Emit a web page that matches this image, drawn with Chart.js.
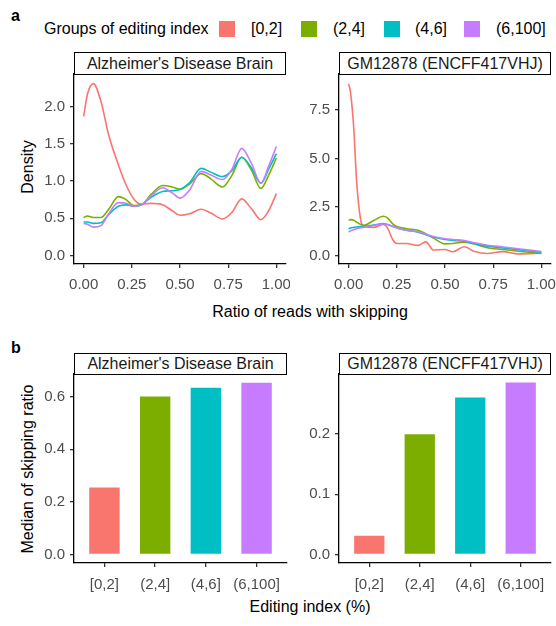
<!DOCTYPE html>
<html><head><meta charset="utf-8">
<script src="https://cdn.jsdelivr.net/npm/chart.js@4.4.1/dist/chart.umd.min.js"></script>
<style>
body{margin:0;width:556px;height:626px;position:relative;background:#fff;font-family:"Liberation Sans",Arial,sans-serif;overflow:hidden;color:#000}
.strip{position:absolute;box-sizing:border-box;border:1px solid #000;background:#fff;font-size:16px;color:#1a1a1a;text-align:center;white-space:nowrap;z-index:5}
.lbl{position:absolute;font-size:16px;white-space:nowrap;line-height:16px}
.sw{position:absolute;width:16px;height:16px}
.tag{position:absolute;font-size:16px;font-weight:bold;line-height:16px}
canvas{position:absolute}
</style>
</head><body>
<div class="tag" style="left:11px;top:8px">a</div>
<div class="tag" style="left:11px;top:340px">b</div>

<div class="lbl" style="left:44px;top:21px">Groups of editing index</div>
<div class="sw" style="left:219px;top:21px;background:#F8766D"></div>
<div class="lbl" style="left:251px;top:21px">[0,2]</div>
<div class="sw" style="left:301px;top:21px;background:#7CAE00"></div>
<div class="lbl" style="left:333px;top:21px">(2,4]</div>
<div class="sw" style="left:384px;top:21px;background:#00BFC4"></div>
<div class="lbl" style="left:415px;top:21px">(4,6]</div>
<div class="sw" style="left:464px;top:21px;background:#C77CFF"></div>
<div class="lbl" style="left:496px;top:21px">(6,100]</div>

<div class="strip" style="left:74px;top:52px;width:212px;height:23px;line-height:21px">Alzheimer's Disease Brain</div>
<div class="strip" style="left:339px;top:52px;width:212px;height:23px;line-height:21px">GM12878 (ENCFF417VHJ)</div>
<div class="strip" style="left:74px;top:353px;width:213px;height:22px;line-height:20px">Alzheimer's Disease Brain</div>
<div class="strip" style="left:339px;top:353px;width:212px;height:22px;line-height:20px">GM12878 (ENCFF417VHJ)</div>

<div class="lbl" style="left:28px;top:167px;transform:translate(-50%,-50%) rotate(-90deg)">Density</div>
<div class="lbl" style="left:28px;top:469px;transform:translate(-50%,-50%) rotate(-90deg)">Median of skipping ratio</div>
<div class="lbl" style="left:310px;top:312px;transform:translate(-50%,-50%)">Ratio of reads with skipping</div>
<div class="lbl" style="left:310px;top:607px;transform:translate(-50%,-50%)">Editing index (%)</div>

<canvas id="c1" width="290" height="230" style="left:0px;top:70px"></canvas>
<canvas id="c2" width="266" height="230" style="left:290px;top:70px"></canvas>
<canvas id="c3" width="290" height="230" style="left:0px;top:370px"></canvas>
<canvas id="c4" width="266" height="230" style="left:290px;top:370px"></canvas>

<script>
// ---------- data ----------
const groups = ["[0,2]", "(2,4]", "(4,6]", "(6,100]"];
const groupColors = ["#F8766D", "#7CAE00", "#00BFC4", "#C77CFF"];

// Panel a, Alzheimer's Disease Brain: density of skipping ratio
const adX      = [0,0.02,0.05,0.09,0.13,0.18,0.22,0.26,0.30,0.35,0.41,0.46,0.50,0.55,0.61,0.66,0.72,0.77,0.82,0.87,0.92,0.96,1.0];
const adDens0  = [1.87,2.17,2.31,2.07,1.62,1.22,0.95,0.76,0.69,0.70,0.68,0.60,0.54,0.56,0.62,0.57,0.49,0.58,0.76,0.63,0.48,0.60,0.83];
const adDens1  = [0.51,0.53,0.51,0.51,0.62,0.79,0.75,0.67,0.68,0.82,0.94,0.92,0.89,0.96,1.10,1.03,0.92,1.08,1.32,1.15,0.90,1.08,1.31];
const adDens2  = [0.45,0.45,0.43,0.44,0.55,0.66,0.68,0.66,0.68,0.78,0.86,0.87,0.885,0.98,1.17,1.12,1.06,1.14,1.32,1.18,0.97,1.16,1.37];
const adDens3  = [0.43,0.42,0.38,0.40,0.56,0.71,0.70,0.66,0.68,0.80,0.91,0.84,0.77,0.88,1.13,1.08,1.02,1.16,1.44,1.24,0.97,1.20,1.465];

// Panel a, GM12878 (ENCFF417VHJ)
const gmX      = [0,0.01,0.027,0.041,0.062,0.08,0.13,0.18,0.2,0.23,0.25,0.3,0.36,0.4,0.44,0.5,0.54,0.6,0.65,0.72,0.8,0.88,1.0];
const gmDens0  = [8.85,8.4,6.5,3.9,1.86,1.5,1.45,1.6,1.45,0.8,0.62,0.62,0.52,0.70,0.28,0.31,0.19,0.45,0.22,0.10,0.20,0.08,0.12];
const gmDens1  = [1.82,1.85,1.82,1.72,1.6,1.56,1.8,2.02,1.95,1.62,1.5,1.38,1.3,1.12,0.9,0.6,0.62,0.69,0.6,0.4,0.31,0.22,0.1];
const gmDens2  = [1.37,1.42,1.45,1.47,1.48,1.5,1.57,1.64,1.6,1.5,1.42,1.3,1.2,1.07,0.95,0.82,0.78,0.73,0.62,0.48,0.39,0.3,0.15];
const gmDens3  = [1.2,1.27,1.33,1.38,1.43,1.46,1.55,1.62,1.6,1.5,1.42,1.3,1.22,1.1,0.98,0.86,0.82,0.77,0.66,0.53,0.44,0.35,0.2];

// Panel b: median of skipping ratio
const adMedian = [0.254, 0.600, 0.634, 0.653];
const gmMedian = [0.031, 0.200, 0.261, 0.286];

// tick labels
const densXTicks = [0, 0.25, 0.5, 0.75, 1];
const adDensYTicks = [0, 0.5, 1.0, 1.5, 2.0];
const gmDensYTicks = [0, 2.5, 5.0, 7.5];
const adMedYTicks = [0, 0.2, 0.4, 0.6];
const gmMedYTicks = [0, 0.1, 0.2];

// ---------- helpers ----------
const TICK_COLOR = "#4D4D4D";
const FONT = {family: "'Liberation Sans', Arial, sans-serif", size: 15};

function axis(opts) {
  return {
    type: 'linear',
    min: opts.min, max: opts.max,
    offset: false,
    border: {display: true, color: '#000', width: 1.3},
    grid: {display: true, offset: false, drawOnChartArea: false, drawTicks: true, tickLength: 4, color: '#333', lineWidth: 1.3},
    ticks: {color: TICK_COLOR, font: FONT, padding: opts.pad, autoSkip: false, maxRotation: 0,
            callback: opts.fmt},
    afterBuildTicks: s => { s.ticks = opts.ticks.map(v => ({value: v})); },
    afterFit: s => {
      if (opts.w !== undefined) s.width = opts.w;
      if (opts.h !== undefined) s.height = opts.h;
      s.paddingTop = 0; s.paddingBottom = 0; s.paddingLeft = 0; s.paddingRight = 0;
    }
  };
}

function densChart(id, xs, series, yTicks, ymin, ymax, yw, padR) {
  new Chart(document.getElementById(id), {
    type: 'line',
    data: {
      datasets: series.map((ys, i) => ({
        data: xs.map((x, j) => ({x: x, y: ys[j]})),
        borderColor: groupColors[i], borderWidth: 1.6,
        pointRadius: 0, fill: false,
        cubicInterpolationMode: 'monotone',
        order: 4 - i
      }))
    },
    options: {
      responsive: false, animation: false,
      layout: {padding: {left: 0, right: padR, top: 4, bottom: 0}},
      plugins: {legend: {display: false}, tooltip: {enabled: false}},
      scales: {
        x: axis({min: -0.05, max: 1.05, ticks: densXTicks, pad: 8, h: 36, fmt: v => v.toFixed(2)}),
        y: axis({min: ymin, max: ymax, ticks: yTicks, pad: 5, w: yw, fmt: v => v.toFixed(1)})
      }
    }
  });
}

function barChart(id, vals, yTicks, ymin, ymax, yw, padR) {
  new Chart(document.getElementById(id), {
    type: 'bar',
    data: {
      datasets: [{
        data: vals.map((v, i) => ({x: i + 1, y: v})),
        backgroundColor: groupColors, borderWidth: 0,
        barPercentage: 0.6, categoryPercentage: 1.0
      }]
    },
    options: {
      responsive: false, animation: false,
      layout: {padding: {left: 0, right: padR, top: 4, bottom: 0}},
      plugins: {legend: {display: false}, tooltip: {enabled: false}},
      scales: {
        x: axis({min: 0.4, max: 4.6, ticks: [1, 2, 3, 4], pad: 9, h: 37, fmt: v => groups[Math.round(v) - 1]}),
        y: axis({min: ymin, max: ymax, ticks: yTicks, pad: 5, w: yw, fmt: v => v.toFixed(1)})
      }
    }
  });
}

densChart('c1', adX, [adDens0, adDens1, adDens2, adDens3], adDensYTicks, -0.116, 2.44, 74, 4);
densChart('c2', gmX, [gmDens0, gmDens1, gmDens2, gmDens3], gmDensYTicks, -0.44, 9.36, 49, 5);
barChart('c3', adMedian, adMedYTicks, -0.0327, 0.686, 74, 3);
barChart('c4', gmMedian, gmMedYTicks, -0.0143, 0.300, 49, 5);
</script>
</body></html>
